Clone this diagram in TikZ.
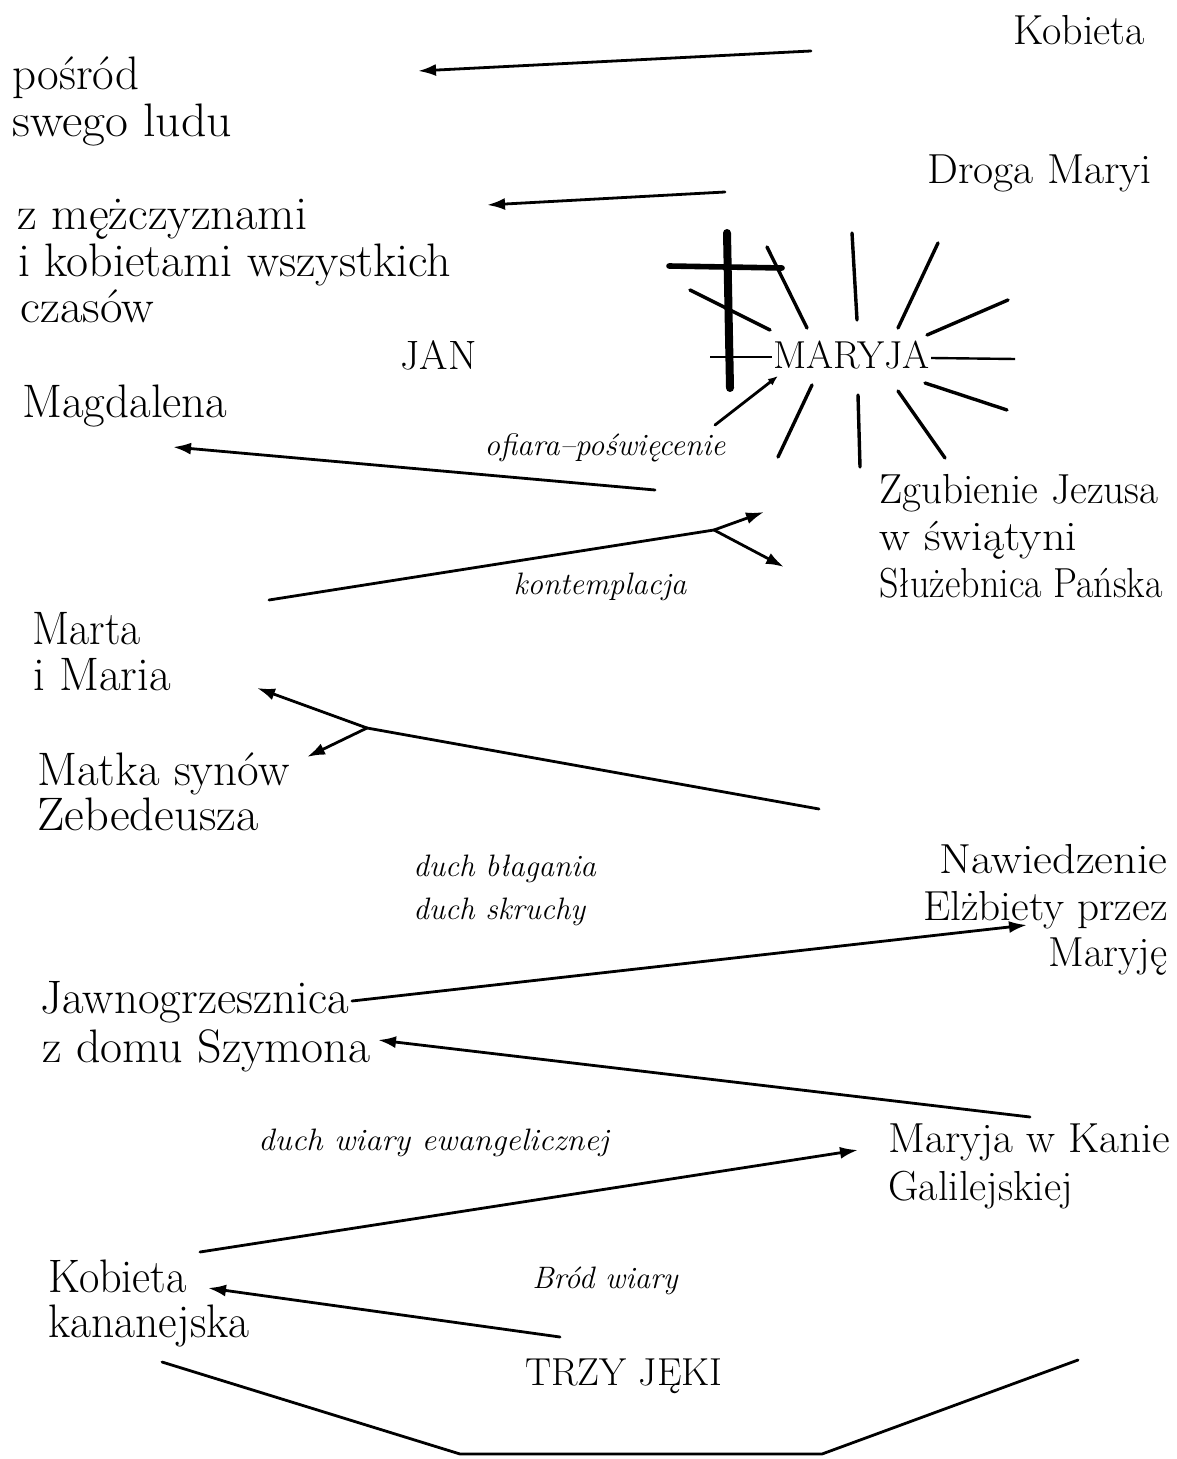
\documentclass[tikz,border=0pt]{standalone}
\usepackage{fontspec}
\usepackage{graphicx}
\usetikzlibrary{arrows.meta}
\newcommand{\hs}[2]{\scalebox{#1}[1]{#2}}
\tikzset{
  lbl/.style={inner sep=0pt, font=\fontsize{21}{25}\selectfont},
  lblL/.style={inner sep=0pt, font=\fontsize{23.5}{27}\selectfont},
  maryja/.style={inner sep=0pt, font=\fontsize{19.5}{23}\selectfont},
  lit/.style={inner sep=0pt, font=\fontsize{15.5}{18}\selectfont\itshape},
  conn/.style={line width=1.4pt, line cap=round},
  arr/.style={conn, -{Latex[length=9pt,width=6pt]}},
  smallarr/.style={conn, -{Latex[length=5pt,width=4pt]}},
  ray/.style={line width=1.7pt, line cap=round},
}
\begin{document}
\begin{tikzpicture}[x=0.5pt, y=-0.5pt]
\fill[white] (0,0) rectangle (1176,1459);
\useasboundingbox (0,0) rectangle (1176,1459);

% ---------- texts ----------
\node[lbl, anchor=base west] (kob1) at (1013,45) {Kobieta};
\node[lblL, anchor=base west] (pos1) at (12,90) {pośród};
\node[lblL, anchor=base west] (pos2) at (12,137) {\hs{1.06}{swego ludu}};
\node[lbl, anchor=base west] (droga) at (927,184) {\hs{1.04}{Droga Maryi}};
\node[lblL, anchor=base west] (mez1) at (17,230) {\hs{1.03}{z mężczyznami}};
\node[lblL, anchor=base west] (mez2) at (18,277) {\hs{1.02}{i kobietami wszystkich}};
\node[lblL, anchor=base west] (mez3) at (20,323) {\hs{1.04}{czasów}};
\node[lbl, anchor=base west, font=\fontsize{20.5}{24}\selectfont] (jan) at (400,370) {JAN};
\node[maryja, anchor=base west] (mar) at (773,369) {MARYJA};
\node[lblL, anchor=base west] (magd) at (22,418) {Magdalena};
\node[lit, anchor=base] (ofiara) at (605,456) {ofiara–poświęcenie};
\node[lbl, anchor=base west] (zgub1) at (879,503) {\hs{0.98}{Zgubienie Jezusa}};
\node[lbl, anchor=base west] (zgub2) at (879,550) {\hs{1.1}{w świątyni}};
\node[lbl, anchor=base west] (zgub3) at (879,597) {\hs{0.905}{Służebnica Pańska}};
\node[lit, anchor=base] (kontem) at (600,594) {kontemplacja};
\node[lblL, anchor=base west] (marta1) at (32,644) {\hs{0.93}{Marta}};
\node[lblL, anchor=base west] (marta2) at (33,690) {i Maria};
\node[lblL, anchor=base west] (matka1) at (37,785) {Matka synów};
\node[lblL, anchor=base west] (matka2) at (37,830) {\hs{1.03}{Zebedeusza}};
\node[lit, anchor=base west] (duch1) at (413,876) {duch błagania};
\node[lit, anchor=base west] (duch2) at (413,919) {duch skruchy};
\node[lbl, anchor=base east] (naw1) at (1168,873) {\hs{1.1}{Nawiedzenie}};
\node[lbl, anchor=base east] (naw2) at (1168,920) {\hs{1.03}{Elżbiety przez}};
\node[lbl, anchor=base east] (naw3) at (1168,966) {Maryję};
\node[lblL, anchor=base west] (jaw1) at (40,1013) {Jawnogrzesznica};
\node[lblL, anchor=base west] (jaw2) at (42,1062) {\hs{1.02}{z domu Szymona}};
\node[lit, anchor=base west] (wiary) at (258,1150) {\hs{1.05}{duch wiary ewangelicznej}};
\node[lbl, anchor=base west] (kana1) at (888,1152) {\hs{1.03}{Maryja w Kanie}};
\node[lbl, anchor=base west] (kana2) at (888,1200) {Galilejskiej};
\node[lblL, anchor=base west] (kob2) at (48,1292) {\hs{0.94}{Kobieta}};
\node[lblL, anchor=base west] (kob3) at (48,1337) {\hs{0.97}{kananejska}};
\node[lit, anchor=base] (brod) at (605,1288) {Bród wiary};
\node[lbl, anchor=base west, font=\fontsize{19.5}{23}\selectfont] (trzy) at (525,1385) {TRZY JĘKI};

% ---------- connector end points ----------
\coordinate (a1s) at (811,51);   \coordinate (a1e) at (418,71);
\coordinate (a2s) at (725,192);  \coordinate (a2e) at (487,205);
\coordinate (a3s) at (655,490);  \coordinate (a3e) at (173,447);
\coordinate (a4s) at (269,600);  \coordinate (a4j) at (714,530);
\coordinate (a4u) at (764,512);  \coordinate (a4d) at (784,567);
\coordinate (a5s) at (819,809);  \coordinate (a5j) at (367,728);
\coordinate (a5u) at (257,688);  \coordinate (a5d) at (307,757);
\coordinate (a6s) at (352,1001); \coordinate (a6e) at (1027,925);
\coordinate (a7s) at (1030,1117);\coordinate (a7e) at (378,1040);
\coordinate (a8s) at (200,1252); \coordinate (a8e) at (858,1150);
\coordinate (a9s) at (560,1337); \coordinate (a9e) at (208,1288);
\coordinate (p1) at (162,1362);  \coordinate (p2) at (460,1454);
\coordinate (p3) at (822,1454);  \coordinate (p4) at (1078,1360);

% ---------- connectors ----------
\draw[arr] (a1s) -- (a1e);
\draw[arr] (a2s) -- (a2e);
\draw[arr] (a3s) -- (a3e);
\draw[conn] (a4s) -- (a4j);
\draw[arr] (a4j) -- (a4u);
\draw[arr] (a4j) -- (a4d);
\draw[conn] (a5s) -- (a5j);
\draw[arr] (a5j) -- (a5u);
\draw[arr] (a5j) -- (a5d);
\draw[arr] (a6s) -- (a6e);
\draw[arr] (a7s) -- (a7e);
\draw[arr] (a8s) -- (a8e);
\draw[arr] (a9s) -- (a9e);
\draw[conn, line join=round] (p1) -- (p2) -- (p3) -- (p4);

% ---------- cross ----------
\draw[line width=4pt, line cap=round] (727,233) -- (730,388);
\draw[line width=2.8pt, line cap=round] (669,266) -- (782,268);

% ---------- rays round MARYJA ----------
\draw[ray] (767,247) -- (807,328);
\draw[ray] (690,290) -- (770,330);
\draw[line width=1pt] (710,357) -- (772,357);
\draw[ray] (852,233) -- (857,320);
\draw[ray] (938,243) -- (898,328);
\draw[ray] (1008,300) -- (927,335);
\draw[line width=1.2pt] (931,358) -- (1015,359);
\draw[ray] (925,383) -- (1007,410);
\draw[ray] (898,391) -- (945,458);
\draw[ray] (858,395) -- (860,467);
\draw[ray] (812,385) -- (778,457);
\draw[smallarr] (715,425) -- (778,376);
\end{tikzpicture}
\end{document}
